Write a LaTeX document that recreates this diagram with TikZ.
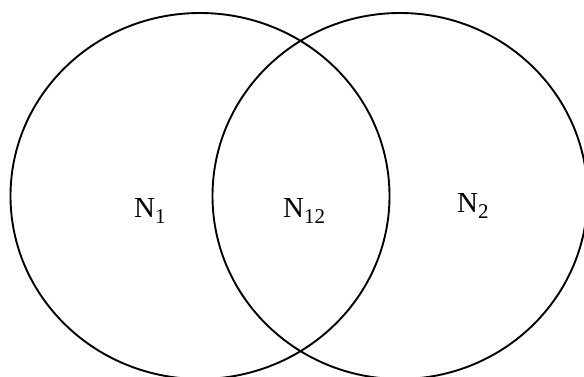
\documentclass[tikz,border=0pt]{standalone}
\usepackage{fontspec}
\setmainfont{Liberation Serif}
\tikzset{
  setline/.style={draw=black, line width=1.9pt},
  setlabel/.style={anchor=base west, inner sep=0pt, font=\fontsize{29}{30}\selectfont},
}
\newcommand{\subdig}[1]{\raisebox{-0.22em}{\fontsize{21}{22}\selectfont #1}}
\begin{document}
\begin{tikzpicture}[x=1pt,y=1pt]
\useasboundingbox (0,0) rectangle (584,376);
\clip (0,0) rectangle (584,376);
\fill[white] (0,0) rectangle (584,376);
\draw[setline] (200,180) ellipse [x radius=189.5, y radius=183];
\draw[setline] (400,180) ellipse [x radius=187.5, y radius=183];
\node[setlabel] (n1) at (134,159) {N\subdig{1}};
\node[setlabel] (n12) at (283,159) {N\subdig{12}};
\node[setlabel] (n2) at (457,164) {N\subdig{2}};
\end{tikzpicture}
\end{document}
